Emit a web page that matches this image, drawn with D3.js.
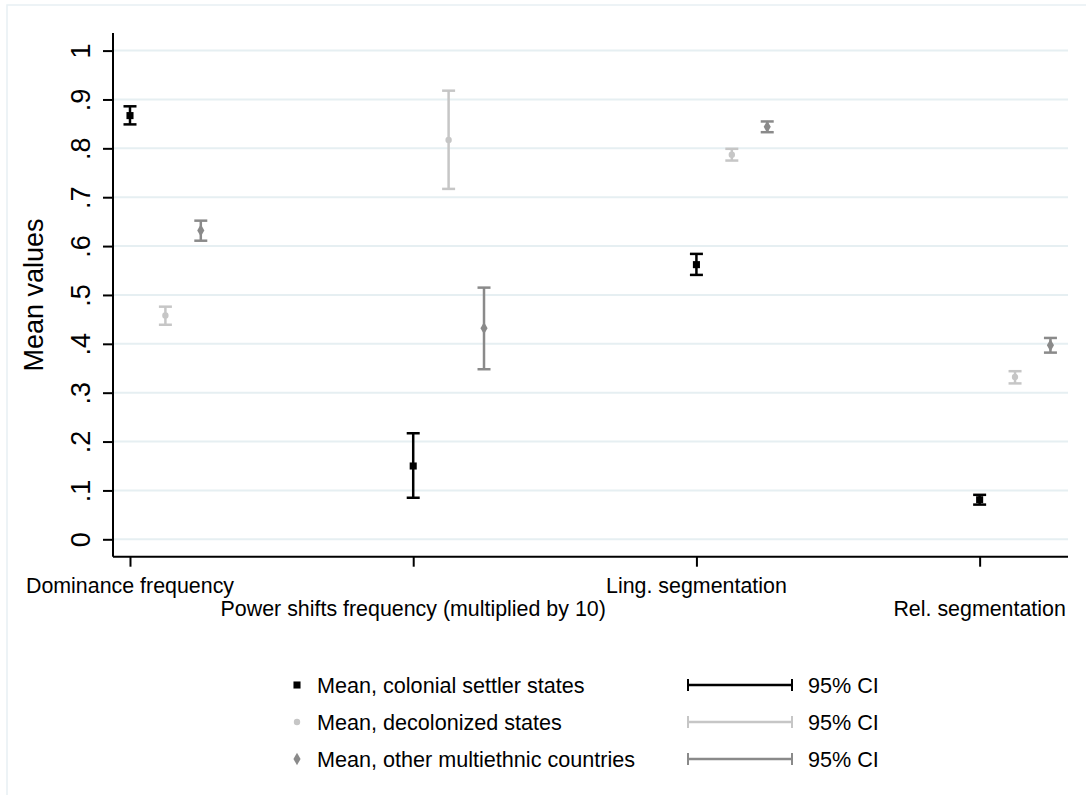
<!DOCTYPE html>
<html>
<head>
<meta charset="utf-8">
<script src="https://cdn.jsdelivr.net/npm/d3@7"></script>
<style>
	body { margin: 0; background: #fff; }
	text { font-family: "Liberation Sans", Arial, sans-serif; fill: #000; }
</style>
</head>
<body>
<div id="chart"></div>
<script>
const categories = ['Dominance frequency', 'Power shifts frequency (multiplied by 10)', 'Ling. segmentation', 'Rel. segmentation'];
const groups = ['colonial', 'decolonized', 'other'];
const group_labels = ['Mean, colonial settler states', 'Mean, decolonized states', 'Mean, other multiethnic countries'];

// mean, lower CI, upper CI per category
const colonial_mean = [0.867, 0.150, 0.562, 0.081];
const colonial_lo = [0.849, 0.085, 0.541, 0.071];
const colonial_hi = [0.886, 0.217, 0.584, 0.091];

const decolonized_mean = [0.458, 0.817, 0.787, 0.332];
const decolonized_lo = [0.439, 0.717, 0.775, 0.319];
const decolonized_hi = [0.476, 0.918, 0.799, 0.344];

const other_mean = [0.632, 0.432, 0.844, 0.397];
const other_lo = [0.611, 0.348, 0.833, 0.382];
const other_hi = [0.652, 0.515, 0.855, 0.412];

const y_ticks = [0, 0.1, 0.2, 0.3, 0.4, 0.5, 0.6, 0.7, 0.8, 0.9, 1];
const y_tick_labels = ['0', '.1', '.2', '.3', '.4', '.5', '.6', '.7', '.8', '.9', '1'];

const width = 1086;
const height = 795;

const colours = { colonial: '#000000', decolonized: '#c6c6c6', other: '#8a8a8a' };
const group_offset = 0.125;

const series = [
	{ key: 'colonial', mean: colonial_mean, lo: colonial_lo, hi: colonial_hi },
	{ key: 'decolonized', mean: decolonized_mean, lo: decolonized_lo, hi: decolonized_hi },
	{ key: 'other', mean: other_mean, lo: other_lo, hi: other_hi },
];

const points = series.map((s, j) => s.mean.map((m, i) => ({
	key: s.key, x: i + j * group_offset, mean: m, lo: s.lo[i], hi: s.hi[i],
}))).flat();

const x = d3.scaleLinear().domain([-0.06, 3.312]).range([113, 1068]);
const y = d3.scaleLinear().domain([-0.0356, 1.036]).range([556.7, 33]);

const svg = d3.select('#chart').append('svg')
	.attr('width', width)
	.attr('height', height);

// outer graph region border
svg.append('rect')
	.attr('x', 7).attr('y', 5)
	.attr('width', width + 10).attr('height', height + 10)
	.style('fill', 'none')
	.style('stroke', '#e8f0f3')
	.style('stroke-width', 1.5);

// grid
svg.append('g')
	.selectAll('line')
	.data(y_ticks)
	.enter()
	.append('line')
	.attr('x1', x.range()[0])
	.attr('x2', x.range()[1])
	.attr('y1', d => y(d))
	.attr('y2', d => y(d))
	.style('stroke', '#e6eff2')
	.style('stroke-width', 2);

// y axis
const y_axis = svg.append('g')
	.attr('transform', `translate(${x.range()[0]},0)`)
	.call(d3.axisLeft(y).tickValues(y_ticks).tickFormat((d, i) => y_tick_labels[i]).tickSize(10).tickPadding(6))
	.attr('font-family', '"Liberation Sans", Arial, sans-serif');
y_axis.select('.domain').attr('d', `M0,${y.range()[1]}V${y.range()[0]}`).style('stroke-width', 2);
y_axis.selectAll('.tick line').style('stroke-width', 2);
y_axis.selectAll('.tick text')
	.attr('x', null).attr('dy', null)
	.attr('transform', 'translate(-23,0) rotate(-90)')
	.attr('text-anchor', 'middle')
	.style('font-size', '27px');

svg.append('text')
	.attr('transform', `translate(43,${y(0.5)}) rotate(-90)`)
	.attr('text-anchor', 'middle')
	.style('font-size', '27px')
	.text('Mean values');

// x axis
const x_axis = svg.append('g')
	.attr('transform', `translate(0,${y.range()[0]})`)
	.call(d3.axisBottom(x).tickValues([0, 1, 2, 3]).tickFormat('').tickSize(10));
x_axis.select('.domain').attr('d', `M${x.range()[0]},0H${x.range()[1]}`).style('stroke-width', 2);
x_axis.selectAll('.tick line').style('stroke-width', 2);

svg.append('g')
	.selectAll('text')
	.data(categories)
	.enter()
	.append('text')
	.attr('x', (d, i) => x(i))
	.attr('y', (d, i) => i % 2 == 0 ? 593 : 616)
	.attr('text-anchor', 'middle')
	.style('font-size', '21.4px')
	.text(d => d);

// CI bars
const cap = 6.5;
const bars = svg.append('g')
	.selectAll('g')
	.data(points)
	.enter()
	.append('g')
	.style('stroke', d => colours[d.key])
	.style('stroke-width', 2.5);

bars.append('line')
	.attr('x1', d => x(d.x)).attr('x2', d => x(d.x))
	.attr('y1', d => y(d.lo)).attr('y2', d => y(d.hi));
bars.append('line')
	.attr('x1', d => x(d.x) - cap).attr('x2', d => x(d.x) + cap)
	.attr('y1', d => y(d.lo)).attr('y2', d => y(d.lo));
bars.append('line')
	.attr('x1', d => x(d.x) - cap).attr('x2', d => x(d.x) + cap)
	.attr('y1', d => y(d.hi)).attr('y2', d => y(d.hi));

const symbols = {
	colonial: d3.symbol().type(d3.symbolSquare).size(50),
	decolonized: d3.symbol().type(d3.symbolCircle).size(32),
	other: d3.symbol().type(d3.symbolDiamond).size(44),
};

svg.append('g')
	.selectAll('path')
	.data(points)
	.enter()
	.append('path')
	.attr('transform', d => `translate(${x(d.x)},${y(d.mean)})`)
	.attr('d', d => symbols[d.key]())
	.style('fill', d => colours[d.key]);

// legend
const legend_y = [685, 722, 759];
const legend = svg.append('g')
	.selectAll('g')
	.data(groups)
	.enter()
	.append('g')
	.attr('transform', (d, i) => `translate(0,${legend_y[i]})`);

legend.append('path')
	.attr('transform', 'translate(297,0)')
	.attr('d', d => symbols[d]())
	.style('fill', d => colours[d]);

legend.append('text')
	.attr('x', 317)
	.attr('y', 8)
	.style('font-size', '21.6px')
	.text((d, i) => group_labels[i]);

legend.append('line')
	.attr('x1', 688).attr('x2', 792)
	.attr('y1', 0).attr('y2', 0)
	.style('stroke', d => colours[d])
	.style('stroke-width', 2.5);
legend.append('line')
	.attr('x1', 688).attr('x2', 688)
	.attr('y1', -6).attr('y2', 6)
	.style('stroke', d => colours[d])
	.style('stroke-width', 2);
legend.append('line')
	.attr('x1', 792).attr('x2', 792)
	.attr('y1', -6).attr('y2', 6)
	.style('stroke', d => colours[d])
	.style('stroke-width', 2);

legend.append('text')
	.attr('x', 808)
	.attr('y', 8)
	.style('font-size', '21.6px')
	.text('95% CI');
</script>
</body>
</html>
